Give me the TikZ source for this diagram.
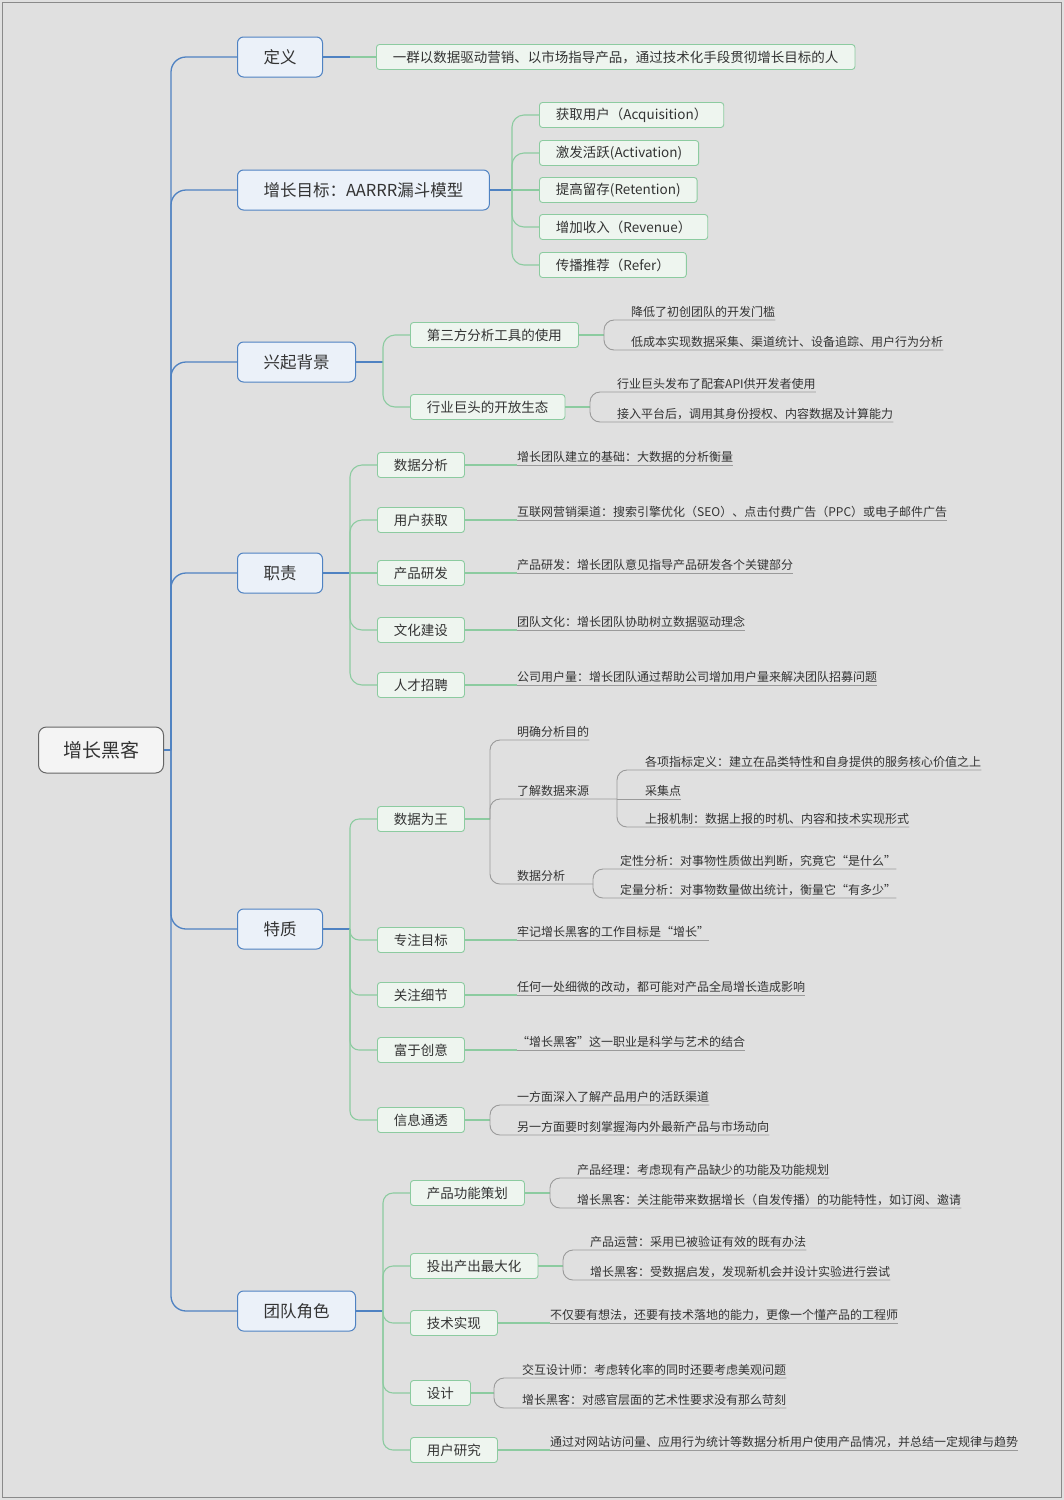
\documentclass[tikz,border=0pt]{standalone}
\usepackage{fontspec}
\setmainfont{Noto Sans CJK SC}
\usetikzlibrary{positioning}

\definecolor{bgcol}{HTML}{E0E0E0}
\definecolor{framecol}{HTML}{8A8A8A}
\definecolor{inkcol}{HTML}{333333}
\definecolor{hubfill}{HTML}{F4F4F4}
\definecolor{hubline}{HTML}{666666}
\definecolor{topicfill}{HTML}{EBF1F9}
\definecolor{bluecol}{HTML}{4F82C2}
\definecolor{subfill}{HTML}{EEF5EF}
\definecolor{greencol}{HTML}{8CCBA0}
\definecolor{greycol}{HTML}{9A9A9A}

\tikzset{
  hub/.style={draw=hubline, fill=hubfill, line width=1pt, rounded corners=8pt,
    minimum width=125pt, minimum height=46pt, text=inkcol,
    font=\fontsize{19}{22}\selectfont},
  topic/.style={draw=bluecol, fill=topicfill, line width=1pt, rounded corners=6pt,
    anchor=west, minimum height=40pt, inner xsep=26pt, text=inkcol,
    font=\fontsize{16.5}{20}\selectfont},
  sub/.style={draw=greencol, fill=subfill, line width=0.9pt, rounded corners=3pt,
    anchor=west, minimum height=25pt, inner xsep=16.5pt, text=inkcol,
    font=\fontsize{13.5}{16}\selectfont},
  leaf/.style={anchor=south west, inner xsep=0pt, inner ysep=2.5pt, text=inkcol,
    font=\fontsize{12}{14}\selectfont},
  blueline/.style={draw=bluecol, line width=1.3pt},
  greenline/.style={draw=greencol, line width=1.1pt},
  greyline/.style={draw=greycol, line width=0.9pt}
}

\begin{document}
\begin{tikzpicture}[x=1pt, y=-1pt]
    % Background
    \fill[bgcol] (0,0) rectangle (1064,1500);
    \draw[framecol, line width=1pt] (2.5,2.5) rectangle (1061.5,1497.5);
    \useasboundingbox (0,0) rectangle (1064,1500);

    % Root and main topics
    \node[hub] (root) at (101,750) {增长黑客};
    \coordinate (spine) at (171,750);
    \node[topic] (def) at (237,57) {定义};
    \node[topic] (goal) at (237,190) {增长目标：AARRR漏斗模型};
    \node[topic] (bg) at (237,362) {兴起背景};
    \node[topic] (duty) at (237,573) {职责};
    \node[topic] (trait) at (237,929) {特质};
    \node[topic] (role) at (237,1311) {团队角色};

    \draw[blueline] (root.east) -- (spine);
    \foreach \t in {def,goal,bg,duty,trait,role}
        \draw[blueline, rounded corners=15pt] (spine) |- (\t.west);

    % Definition
    \node[sub] (def1) at (376,57) {一群以数据驱动营销、以市场指导产品，通过技术化手段贯彻增长目标的人};
    \coordinate (defsp) at (350,57);
    \draw[blueline] (def.east) -- (defsp);
    \draw[greenline] (defsp) -- (def1.west);

    % AARRR
    \node[sub] (goal1) at (539,115) {获取用户（Acquisition）};
    \node[sub] (goal2) at (539,153) {激发活跃(Activation)};
    \node[sub] (goal3) at (539,190) {提高留存(Retention)};
    \node[sub] (goal4) at (539,227) {增加收入（Revenue）};
    \node[sub] (goal5) at (539,265) {传播推荐（Refer）};
    \coordinate (goalsp) at (512,190);
    \draw[blueline] (goal.east) -- (goalsp);
    \draw[greenline] (goalsp) -- (goal3.west);
    \foreach \c in {goal1,goal2,goal4,goal5}
        \draw[greenline, rounded corners=12pt] (goalsp) |- (\c.west);

    % Background
    \node[sub] (bg1) at (410,335) {第三方分析工具的使用};
    \node[sub] (bg2) at (410,407) {行业巨头的开放生态};
    \coordinate (bgsp) at (383,362);
    \draw[blueline] (bg.east) -- (bgsp);
    \foreach \c in {bg1,bg2}
        \draw[greenline, rounded corners=12pt] (bgsp) |- (\c.west);

    \node[leaf] (bg1a) at (631,320) {降低了初创团队的开发门槛};
    \node[leaf] (bg1b) at (631,350) {低成本实现数据采集、渠道统计、设备追踪、用户行为分析};
    \coordinate (bg1sp) at (604,335);
    \node[leaf] (bg2a) at (617,392) {行业巨头发布了配套API供开发者使用};
    \node[leaf] (bg2b) at (617,422) {接入平台后，调用其身份授权、内容数据及计算能力};
    \coordinate (bg2sp) at (590,407);
    \draw[greenline] (bg1.east) -- (bg1sp);
    \draw[greenline] (bg2.east) -- (bg2sp);
    \foreach \p/\c in {bg1/bg1a,bg1/bg1b,bg2/bg2a,bg2/bg2b}
        \draw[greyline, rounded corners=10pt] (\p sp) |- (\c.south west) -- (\c.south east);

    % Duties
    \node[sub] (duty1) at (377,465) {数据分析};
    \node[sub] (duty2) at (377,520) {用户获取};
    \node[sub] (duty3) at (377,573) {产品研发};
    \node[sub] (duty4) at (377,630) {文化建设};
    \node[sub] (duty5) at (377,685) {人才招聘};
    \node[leaf] (duty1-l) at (517,465) {增长团队建立的基础：大数据的分析衡量};
    \node[leaf] (duty2-l) at (517,520) {互联网营销渠道：搜索引擎优化（SEO）、点击付费广告（PPC）或电子邮件广告};
    \node[leaf] (duty3-l) at (517,573) {产品研发：增长团队意见指导产品研发各个关键部分};
    \node[leaf] (duty4-l) at (517,630) {团队文化：增长团队协助树立数据驱动理念};
    \node[leaf] (duty5-l) at (517,685) {公司用户量：增长团队通过帮助公司增加用户量来解决团队招募问题};
    \coordinate (dutysp) at (350,573);
    \draw[blueline] (duty.east) -- (dutysp);
    \draw[greenline] (dutysp) -- (duty3.west);
    \foreach \c in {duty1,duty2,duty4,duty5}
        \draw[greenline, rounded corners=12pt] (dutysp) |- (\c.west);
    \foreach \i in {1,...,5} {
        \draw[greenline] (duty\i.east) -- (duty\i-l.south west);
        \draw[greyline] (duty\i-l.south west) -- (duty\i-l.south east);
    }

    % Traits
    \node[sub] (trait1) at (377,819) {数据为王};
    \node[sub] (trait2) at (377,940) {专注目标};
    \node[sub] (trait3) at (377,995) {关注细节};
    \node[sub] (trait4) at (377,1050) {富于创意};
    \node[sub] (trait5) at (377,1120) {信息通透};
    \coordinate (traitsp) at (350,929);
    \draw[blueline] (trait.east) -- (traitsp);
    \foreach \c in {trait1,trait2,trait3,trait4,trait5}
        \draw[greenline, rounded corners=9pt] (traitsp) |- (\c.west);

    % data is king
    \coordinate (trait1sp) at (490,819);
    \draw[greenline] (trait1.east) -- (trait1sp);
    \node[leaf] (dk1) at (517,740) {明确分析目的};
    \node[leaf] (dk2) at (517,799) {了解数据来源};
    \node[leaf] (dk3) at (517,884) {数据分析};
    \coordinate (dk2sp) at (617,799);
    \coordinate (dk3sp) at (593,884);
    \draw[greyline, rounded corners=10pt] (trait1sp) |- (dk1.south west) -- (dk1.south east);
    \draw[greyline, rounded corners=10pt] (trait1sp) |- (dk2.south west) -- (dk2sp);
    \draw[greyline, rounded corners=10pt] (trait1sp) |- (dk3.south west) -- (dk3sp);
    \node[leaf] (dk2a) at (645,770) {各项指标定义：建立在品类特性和自身提供的服务核心价值之上};
    \node[leaf] (dk2b) at (645,799) {采集点};
    \node[leaf] (dk2c) at (645,827) {上报机制：数据上报的时机、内容和技术实现形式};
    \node[leaf] (dk3a) at (620,869) {定性分析：对事物性质做出判断，究竟它“是什么”};
    \node[leaf] (dk3b) at (620,898) {定量分析：对事物数量做出统计，衡量它“有多少”};
    \draw[greyline] (dk2sp) -- (dk2b.south west) -- (dk2b.south east);
    \foreach \p/\c in {dk2/dk2a,dk2/dk2c,dk3/dk3a,dk3/dk3b}
        \draw[greyline, rounded corners=10pt] (\p sp) |- (\c.south west) -- (\c.south east);

    \node[leaf] (trait2-l) at (517,940) {牢记增长黑客的工作目标是“增长”};
    \node[leaf] (trait3-l) at (517,995) {任何一处细微的改动，都可能对产品全局增长造成影响};
    \node[leaf] (trait4-l) at (517,1050) {“增长黑客”这一职业是科学与艺术的结合};
    \foreach \i in {2,3,4} {
        \draw[greenline] (trait\i.east) -- (trait\i-l.south west);
        \draw[greyline] (trait\i-l.south west) -- (trait\i-l.south east);
    }
    \node[leaf] (tr5a) at (517,1105) {一方面深入了解产品用户的活跃渠道};
    \node[leaf] (tr5b) at (517,1135) {另一方面要时刻掌握海内外最新产品与市场动向};
    \coordinate (trait5sp) at (490,1120);
    \draw[greenline] (trait5.east) -- (trait5sp);
    \foreach \c in {tr5a,tr5b}
        \draw[greyline, rounded corners=10pt] (trait5sp) |- (\c.south west) -- (\c.south east);

    % Team roles
    \node[sub] (role1) at (410,1193) {产品功能策划};
    \node[sub] (role2) at (410,1266) {投出产出最大化};
    \node[sub] (role3) at (410,1323) {技术实现};
    \node[sub] (role4) at (410,1393) {设计};
    \node[sub] (role5) at (410,1450) {用户研究};
    \coordinate (rolesp) at (383,1311);
    \draw[blueline] (role.east) -- (rolesp);
    \foreach \c in {role1,role2,role3,role4,role5}
        \draw[greenline, rounded corners=10pt] (rolesp) |- (\c.west);

    \node[leaf] (ro1a) at (577,1178) {产品经理：考虑现有产品缺少的功能及功能规划};
    \node[leaf] (ro1b) at (577,1208) {增长黑客：关注能带来数据增长（自发传播）的功能特性，如订阅、邀请};
    \node[leaf] (ro2a) at (590,1250) {产品运营：采用已被验证有效的既有办法};
    \node[leaf] (ro2b) at (590,1280) {增长黑客：受数据启发，发现新机会并设计实验进行尝试};
    \node[leaf] (ro4a) at (522,1378) {交互设计师：考虑转化率的同时还要考虑美观问题};
    \node[leaf] (ro4b) at (522,1408) {增长黑客：对感官层面的艺术性要求没有那么苛刻};
    \coordinate (ro1sp) at (550,1193);
    \coordinate (ro2sp) at (563,1266);
    \coordinate (ro4sp) at (494,1393);
    \draw[greenline] (role1.east) -- (ro1sp);
    \draw[greenline] (role2.east) -- (ro2sp);
    \draw[greenline] (role4.east) -- (ro4sp);
    \foreach \p/\c in {ro1/ro1a,ro1/ro1b,ro2/ro2a,ro2/ro2b,ro4/ro4a,ro4/ro4b}
        \draw[greyline, rounded corners=10pt] (\p sp) |- (\c.south west) -- (\c.south east);

    \node[leaf] (role3-l) at (550,1323) {不仅要有想法，还要有技术落地的能力，更像一个懂产品的工程师};
    \node[leaf] (role5-l) at (550,1450) {通过对网站访问量、应用行为统计等数据分析用户使用产品情况，并总结一定规律与趋势};
    \foreach \i in {3,5} {
        \draw[greenline] (role\i.east) -- (role\i-l.south west);
        \draw[greyline] (role\i-l.south west) -- (role\i-l.south east);
    }
\end{tikzpicture}
\end{document}
